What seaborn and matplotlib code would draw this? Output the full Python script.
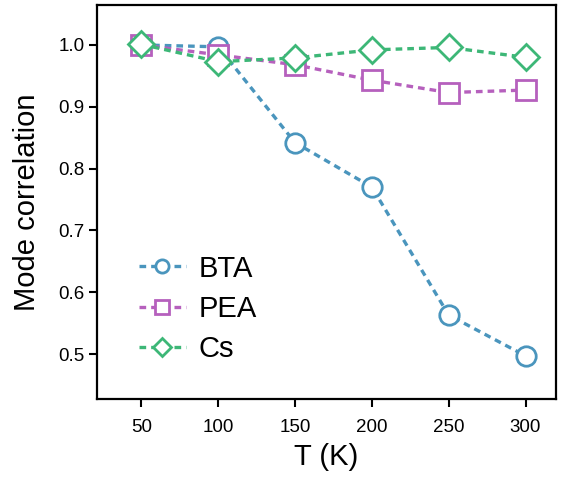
import matplotlib
matplotlib.use("Agg")
import matplotlib.pyplot as plt
import seaborn as sns
import pandas as pd

temps = [50, 100, 150, 200, 250, 300]
bta = [1.000, 0.997, 0.842, 0.770, 0.563, 0.497]
pea = [1.000, 0.984, 0.968, 0.943, 0.923, 0.927]
cs = [1.001, 0.973, 0.979, 0.992, 0.996, 0.980]
names = ["BTA", "PEA", "Cs"]
colors = ["#4a95bd", "#b660bd", "#3db777"]
markers = ["o", "s", "D"]
msizes = [14, 14, 13]

sns.set_style("ticks")
plt.rcParams["font.family"] = ["Liberation Sans", "DejaVu Sans"]
plt.rcParams["text.color"] = "black"
plt.rcParams["axes.labelcolor"] = "black"

fig = plt.figure(figsize=(5.63, 4.78), dpi=100)
ax = fig.add_axes([0.172, 0.165, 0.816, 0.825])

for name, vals, c, m, ms in zip(names, [bta, pea, cs], colors, markers, msizes):
    df = pd.DataFrame({"T": temps, "v": vals})
    sns.lineplot(data=df, x="T", y="v", ax=ax, color=c, marker=m, markersize=ms,
                 markerfacecolor="white", markeredgecolor=c, markeredgewidth=2,
                 linewidth=2.4, dashes=(2, 1.5), label=name)

ax.set_xlim(21, 320)
ax.set_ylim(0.427, 1.065)
ax.set_xticks(temps)
ax.set_yticks([0.5, 0.6, 0.7, 0.8, 0.9, 1.0])
ax.set_yticklabels(["0.5", "0.6", "0.7", "0.8", "0.9", "1.0"])
ax.set_xlabel("T (K)", fontsize=21, labelpad=5)
ax.set_ylabel("Mode correlation", fontsize=21, labelpad=12)
ax.tick_params(axis="both", labelsize=13.5, direction="out", length=6, width=1.5, colors="black")
ax.tick_params(axis="x", pad=8)
ax.tick_params(axis="y", pad=3)
for s in ax.spines.values():
    s.set_linewidth(1.6)
    s.set_color("black")

leg = ax.legend(loc="lower left", frameon=False, fontsize=21, handlelength=1.6,
                markerscale=0.68, bbox_to_anchor=(0.035, 0.025), labelspacing=0.42,
                handletextpad=0.45)

fig.savefig("out.png", dpi=100)
